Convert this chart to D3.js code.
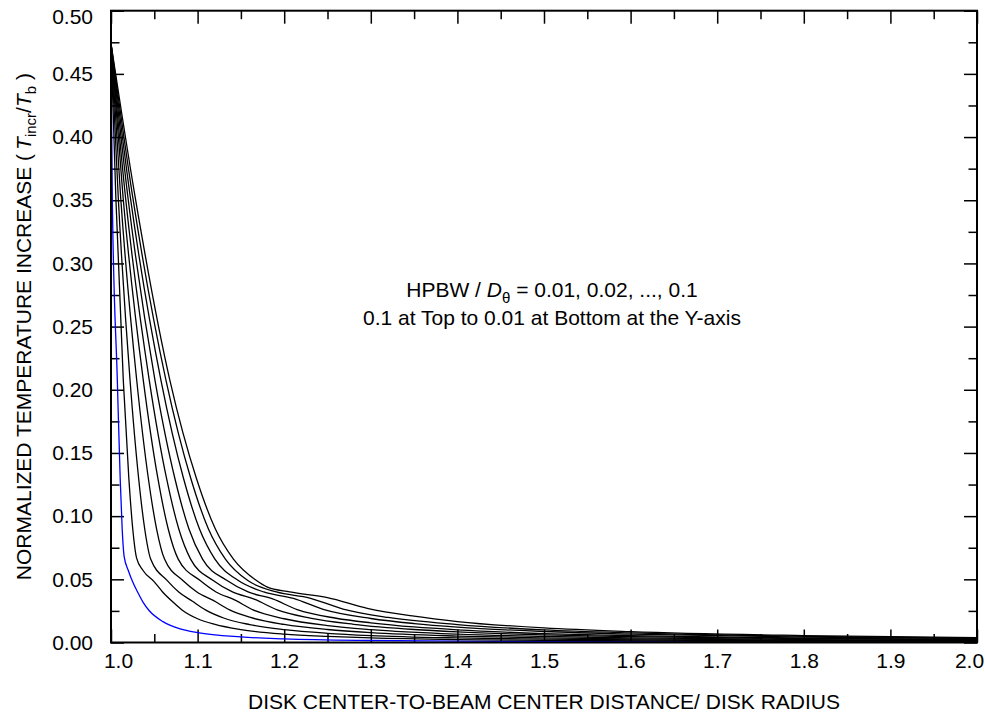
<!DOCTYPE html>
<html><head><meta charset="utf-8">
<script src="https://cdn.jsdelivr.net/npm/d3@7"></script>
<style>body{margin:0;background:#fff}</style>
</head><body>
<svg id="c" width="985" height="719"></svg>
<script>
// ---- data ----
const xMajorTicks = [1.0,1.1,1.2,1.3,1.4,1.5,1.6,1.7,1.8,1.9,2.0];
const xMinorTicks = [1.05,1.15,1.25,1.35,1.45,1.55,1.65,1.75,1.85,1.95];
const yMajorTicks = [0,0.05,0.10,0.15,0.20,0.25,0.30,0.35,0.40,0.45,0.50];
const yMinorTicks = [0.025,0.075,0.125,0.175,0.225,0.275,0.325,0.375,0.425,0.475];

// HPBW / D = 0.01 ... 0.10  ([distance, normalized temperature increase])
const s01 = [[1.0,0.474],[1.0015,0.352],[1.0073,0.2075],[1.0106,0.13],[1.0129,0.09],[1.0152,0.068],[1.02,0.057],[1.025,0.048],[1.0307,0.040],[1.0371,0.0318],[1.044,0.0253],[1.06,0.0165],[1.08,0.0108],[1.1,0.0078],[1.15,0.0044],[1.2,0.0029],[1.3,0.0016],[1.4,0.0011],[1.5,0.0008],[1.7,0.0005],[2.0,0.0003]];
const s02 = [[1.0,0.474],[1.0056,0.352],[1.0142,0.2075],[1.0206,0.13],[1.0251,0.09],[1.0295,0.067],[1.037,0.057],[1.05,0.048],[1.0596,0.040],[1.0708,0.0325],[1.082,0.0258],[1.1,0.0188],[1.12,0.0143],[1.15,0.0102],[1.2,0.0066],[1.25,0.0048],[1.3,0.0036],[1.4,0.0023],[1.5,0.0017],[1.7,0.0010],[2.0,0.0006]];
const s03 = [[1.0,0.474],[1.0084,0.352],[1.022,0.2075],[1.0319,0.13],[1.0389,0.09],[1.0458,0.066],[1.065,0.049],[1.0782,0.040],[1.0936,0.0328],[1.109,0.0258],[1.13,0.0194],[1.16,0.0142],[1.2,0.0102],[1.25,0.0073],[1.3,0.0055],[1.4,0.0036],[1.5,0.0026],[1.7,0.0016],[2.0,0.0009]];
const s04 = [[1.0,0.474],[1.0112,0.352],[1.0297,0.2075],[1.0431,0.13],[1.0526,0.09],[1.0618,0.066],[1.083,0.049],[1.0992,0.040],[1.1181,0.0333],[1.137,0.0258],[1.16,0.0200],[1.2,0.0143],[1.25,0.0103],[1.3,0.0078],[1.4,0.0051],[1.5,0.0036],[1.6,0.0028],[1.8,0.0018],[2.0,0.0013]];
const s05 = [[1.0,0.474],[1.014,0.352],[1.0373,0.2075],[1.0541,0.13],[1.066,0.09],[1.0776,0.066],[1.103,0.049],[1.1213,0.040],[1.1427,0.0337],[1.164,0.0258],[1.2,0.0188],[1.25,0.0134],[1.3,0.0102],[1.4,0.0066],[1.5,0.0048],[1.6,0.0036],[1.8,0.0023],[2.0,0.0017]];
const s06 = [[1.0,0.474],[1.0168,0.352],[1.0442,0.2075],[1.0641,0.13],[1.0782,0.09],[1.0919,0.066],[1.118,0.049],[1.1402,0.040],[1.1661,0.0341],[1.192,0.0258],[1.23,0.0193],[1.28,0.0144],[1.35,0.0103],[1.4,0.0084],[1.5,0.0060],[1.6,0.0046],[1.8,0.0030],[2.0,0.0021]];
const s07 = [[1.0,0.474],[1.0196,0.352],[1.0508,0.2075],[1.0737,0.13],[1.0899,0.09],[1.1057,0.066],[1.134,0.049],[1.1583,0.040],[1.1867,0.0345],[1.215,0.0260],[1.26,0.0192],[1.3,0.0156],[1.35,0.0123],[1.4,0.0100],[1.5,0.0071],[1.6,0.0054],[1.8,0.0035],[2.0,0.0025]];
const s08 = [[1.0,0.474],[1.0224,0.352],[1.0577,0.2075],[1.0837,0.13],[1.1021,0.09],[1.12,0.066],[1.147,0.049],[1.1764,0.040],[1.2107,0.0349],[1.245,0.0262],[1.3,0.0190],[1.35,0.0150],[1.4,0.0122],[1.5,0.0087],[1.6,0.0066],[1.8,0.0043],[2.0,0.0031]];
const s09 = [[1.0,0.474],[1.0252,0.352],[1.0635,0.2075],[1.0921,0.13],[1.1124,0.09],[1.1321,0.066],[1.158,0.049],[1.191,0.040],[1.2295,0.0352],[1.268,0.0265],[1.32,0.0198],[1.4,0.0142],[1.5,0.0100],[1.6,0.0076],[1.8,0.0049],[2.0,0.0035]];
const s10 = [[1.0,0.474],[1.028,0.352],[1.068,0.2075],[1.0986,0.13],[1.1204,0.09],[1.1414,0.066],[1.168,0.049],[1.18,0.044],[1.2064,0.040],[1.25,0.0355],[1.296,0.0270],[1.35,0.0208],[1.4,0.0166],[1.5,0.0115],[1.6,0.0086],[1.8,0.0055],[2.0,0.0038]];
const seriesList = [s01,s02,s03,s04,s05,s06,s07,s08,s09,s10];
const seriesColors = ["#0000ff","#000","#000","#000","#000","#000","#000","#000","#000","#000"];

// ---- layout ----
const FONT = "'Liberation Sans', Arial, Helvetica, sans-serif";
const L = 111, R = 977, T = 10.7, B = 642.5;
const svg = d3.select("#c");
const x = d3.scaleLinear().domain([1.0, 2.0]).range([L, R]);
const y = d3.scaleLinear().domain([0, 0.5]).range([B, T]);

function styleAxis(g){
  g.select(".domain").remove();
  g.selectAll(".tick line").attr("stroke","#000").attr("stroke-width",1.5);
  g.attr("font-family",FONT).attr("font-size",21);
  g.selectAll("text").attr("fill","#000");
}

// bottom
svg.append("g").attr("transform",`translate(0,${B})`)
  .call(d3.axisBottom(x).tickValues(xMajorTicks).tickSize(-13).tickPadding(11).tickFormat(d3.format(".1f")))
  .call(styleAxis)
  .call(g=>g.selectAll(".tick text").attr("dx",d=>d===1.0?7:(d===2.0?-8:0)));
svg.append("g").attr("transform",`translate(0,${B})`)
  .call(d3.axisBottom(x).tickValues(xMinorTicks).tickSize(-8.5).tickFormat("")).call(styleAxis);
// top
svg.append("g").attr("transform",`translate(0,${T})`)
  .call(d3.axisTop(x).tickValues(xMajorTicks).tickSize(-13).tickFormat("")).call(styleAxis);
svg.append("g").attr("transform",`translate(0,${T})`)
  .call(d3.axisTop(x).tickValues(xMinorTicks).tickSize(-8.5).tickFormat("")).call(styleAxis);
// left
svg.append("g").attr("transform",`translate(${L},0)`)
  .call(d3.axisLeft(y).tickValues(yMajorTicks).tickSize(-13).tickPadding(18).tickFormat(d3.format(".2f")))
  .call(styleAxis)
  .call(g=>g.selectAll(".tick text").attr("y",d=>d===0.5?6.5:0));
svg.append("g").attr("transform",`translate(${L},0)`)
  .call(d3.axisLeft(y).tickValues(yMinorTicks).tickSize(-8.5).tickFormat("")).call(styleAxis);
// right
svg.append("g").attr("transform",`translate(${R},0)`)
  .call(d3.axisRight(y).tickValues(yMajorTicks).tickSize(-13).tickFormat("")).call(styleAxis);
svg.append("g").attr("transform",`translate(${R},0)`)
  .call(d3.axisRight(y).tickValues(yMinorTicks).tickSize(-8.5).tickFormat("")).call(styleAxis);

// curves
const line = d3.line().x(d=>x(d[0])).y(d=>y(d[1])).curve(d3.curveMonotoneX);
svg.append("g").selectAll("path").data(seriesList).join("path")
  .attr("d",line).attr("fill","none")
  .attr("stroke",(d,i)=>seriesColors[i]).attr("stroke-width",1.3)
  .attr("stroke-linejoin","round");

// frame
svg.append("rect").attr("x",L).attr("y",T).attr("width",R-L).attr("height",B-T)
  .attr("fill","none").attr("stroke","#000").attr("stroke-width",2);

// x title
svg.append("text").attr("x",(L+R)/2).attr("y",709).attr("text-anchor","middle")
  .attr("font-family",FONT).attr("font-size",21).attr("fill","#000")
  .text("DISK CENTER-TO-BEAM CENTER DISTANCE/ DISK RADIUS");

// y title
const yt = svg.append("text").attr("transform",`translate(31,${(T+B)/2}) rotate(-90)`)
  .attr("text-anchor","middle").attr("font-family",FONT).attr("font-size",21).attr("fill","#000");
yt.append("tspan").text("NORMALIZED TEMPERATURE INCREASE (");
yt.append("tspan").attr("dx",4).attr("font-style","italic").text("T");
yt.append("tspan").attr("font-size",15).attr("dy",5).text("incr");
yt.append("tspan").attr("dy",-5).text("/");
yt.append("tspan").attr("font-style","italic").text("T");
yt.append("tspan").attr("font-size",15).attr("dy",5).text("b");
yt.append("tspan").attr("dy",-5).text(" )");

// annotation
const a1 = svg.append("text").attr("x",552).attr("y",297).attr("text-anchor","middle")
  .attr("font-family",FONT).attr("font-size",21).attr("fill","#000");
a1.append("tspan").text("HPBW / ");
a1.append("tspan").attr("font-style","italic").text("D");
a1.append("tspan").attr("font-size",15).attr("dy",6).text("θ");
a1.append("tspan").attr("dy",-6).text(" = 0.01, 0.02, ..., 0.1");
svg.append("text").attr("x",552).attr("y",325).attr("text-anchor","middle")
  .attr("font-family",FONT).attr("font-size",21).attr("fill","#000")
  .text("0.1 at Top to 0.01 at Bottom at the Y-axis");
</script>
</body></html>
